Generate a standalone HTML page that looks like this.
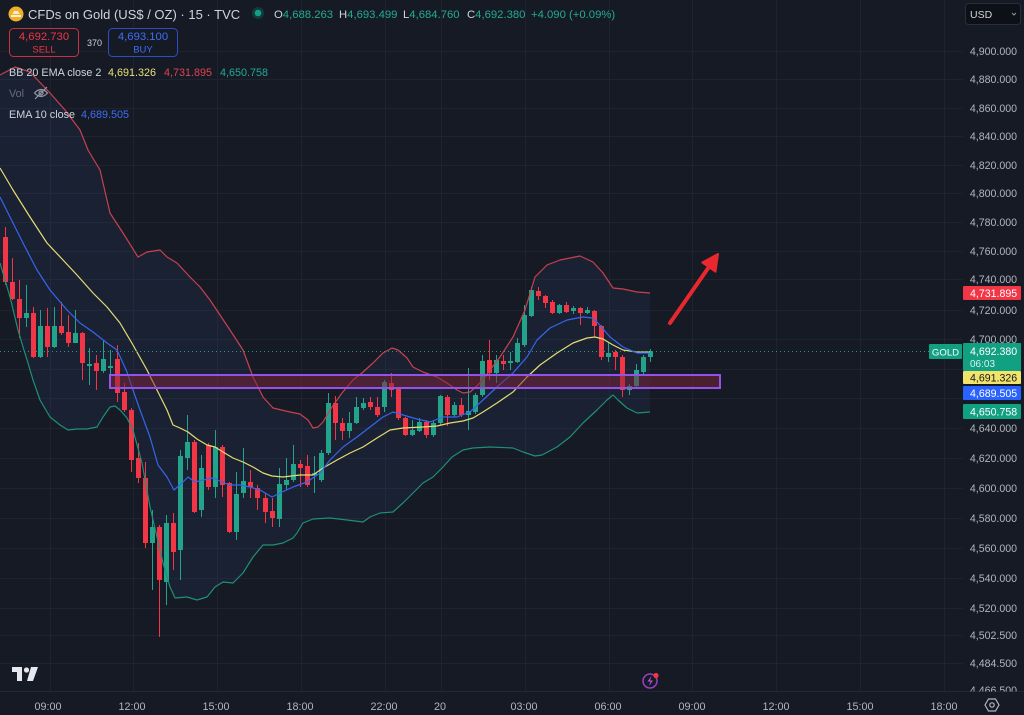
<!DOCTYPE html>
<html><head><meta charset="utf-8">
<style>
html,body{margin:0;padding:0;background:#161a25;}
svg{display:block;font-family:"Liberation Sans",sans-serif;}
</style></head>
<body>
<svg width="1024" height="715" viewBox="0 0 1024 715" xmlns="http://www.w3.org/2000/svg">
<rect width="1024" height="715" fill="#161a25"/>
<!-- grid -->
<g stroke="#1f2330" stroke-width="1" shape-rendering="crispEdges">
<path d="M50.5 0V692M133.5 0V692M217.5 0V692M301.5 0V692M385.5 0V692M441.5 0V692M525.5 0V692M609.5 0V692M692.5 0V692M776.5 0V692M860.5 0V692M944.5 0V692"/>
<path d="M0 51.5H963M0 79.5H963M0 108.5H963M0 136.5H963M0 165.5H963M0 193.5H963M0 222.5H963M0 251.5H963M0 279.5H963M0 310.5H963M0 339.5H963M0 369.5H963M0 398.5H963M0 428.5H963M0 458.5H963M0 488.5H963M0 518.5H963M0 548.5H963M0 578.5H963M0 608.5H963M0 635.5H963M0 663.5H963"/>
</g>
<path d="M0 691.5H1024" stroke="#232733" stroke-width="1"/>
<!-- BB fill -->
<polygon fill="rgba(70,110,200,0.09)" points="0,75 15,67 30,72 50,93 65,110 80,130 88,150 100,170 110,213 123,233 138,257 147,252 160,250 167,257 177,263 190,277 200,287 210,300 230,330 243,350 253,377 263,397 273,408 290,412 300,414 308,420 313,428 318,427 323,422 332,407 342,393 353,380 363,372 373,363 383,353 392,348 398,350 407,358 413,367 423,372 437,377 447,383 457,390 463,393 470,392 478,385 485,377 490,370 500,357 513,337 525,310 535,277 547,265 560,260 580,256 593,262 603,273 613,288 623,289 637,292 650,293 650,412 637,413 627,408 618,400 613,395 607,400 597,410 583,423 570,437 557,447 542,455 535,456 523,452 513,448 490,447 473,448 463,450 452,457 443,467 433,477 423,483 413,493 403,503 393,512 380,513 370,517 363,522 347,520 330,518 313,519 303,523 297,533 293,538 283,543 273,545 263,545 253,557 243,573 233,583 223,582 215,587 207,597 197,600 187,597 175,598 170,587 163,563 157,537 150,507 142,463 133,430 127,418 120,410 115,406 110,407 103,417 97,427 87,429 77,429 68,430 60,425 50,417 40,400 33,380 28,363 23,347 18,330 10,297 0,263"/>
<!-- candles -->
<g shape-rendering="crispEdges">
<path stroke="#f23645" stroke-width="1" fill="none" d="M5.5 227V285M12.5 258V300M19.5 280V338M33.5 307V358M47.5 308V357M61.5 302V335M68.5 315V347M82.5 332V380M96.5 355V390M117.5 345V402M124.5 383V412M131.5 408V472M138.5 443V483M145.5 462V548M159.5 525V637M173.5 513V570M194.5 440V513M208.5 443V490M222.5 445V497M229.5 482V533M250.5 470V498M257.5 485V510M265.5 493V523M272.5 498V527M300.5 460V487M307.5 455V487M335.5 396V440M342.5 418V440M370.5 397V410M377.5 397V417M391.5 373V397M398.5 387V420M405.5 417V436M426.5 420V438M447.5 395V426M461.5 398V417M489.5 340V380M503.5 355V370M538.5 287V300M545.5 295V308M552.5 300V314M566.5 302V313M580.5 307V325M594.5 310V337M601.5 325V360M615.5 350V370M622.5 355V397"/>
<g fill="#f23645">
<rect x="3" y="237" width="5" height="45"/><rect x="10" y="282" width="5" height="17"/><rect x="17" y="299" width="5" height="19"/><rect x="31" y="313" width="5" height="44"/><rect x="45" y="326" width="5" height="21"/><rect x="59" y="326" width="5" height="7"/><rect x="66" y="332" width="5" height="11"/><rect x="80" y="333" width="5" height="30"/><rect x="94" y="363" width="5" height="8"/><rect x="115" y="359" width="5" height="34"/><rect x="122" y="392" width="5" height="18"/><rect x="129" y="410" width="5" height="50"/><rect x="136" y="458" width="5" height="20"/><rect x="143" y="478" width="5" height="65"/><rect x="157" y="527" width="5" height="53"/><rect x="171" y="523" width="5" height="29"/><rect x="192" y="442" width="5" height="70"/><rect x="206" y="445" width="5" height="42"/><rect x="220" y="447" width="5" height="38"/><rect x="227" y="483" width="5" height="49"/><rect x="248" y="482" width="5" height="5"/><rect x="255" y="488" width="5" height="10"/><rect x="263" y="498" width="5" height="14"/><rect x="270" y="511" width="5" height="7"/><rect x="298" y="464" width="5" height="4"/><rect x="305" y="466" width="5" height="19"/><rect x="333" y="403" width="5" height="20"/><rect x="340" y="423" width="5" height="8"/><rect x="368" y="402" width="5" height="5"/><rect x="375" y="407" width="5" height="8"/><rect x="389" y="383" width="5" height="7"/><rect x="396" y="388" width="5" height="30"/><rect x="403" y="418" width="5" height="17"/><rect x="424" y="422" width="5" height="13"/><rect x="445" y="397" width="5" height="18"/><rect x="459" y="405" width="5" height="10"/><rect x="487" y="360" width="5" height="13"/><rect x="501" y="361" width="5" height="3"/><rect x="536" y="291" width="5" height="5"/><rect x="543" y="296" width="5" height="7"/><rect x="550" y="302" width="5" height="11"/><rect x="564" y="305" width="5" height="7"/><rect x="578" y="308" width="5" height="5"/><rect x="592" y="311" width="5" height="15"/><rect x="599" y="326" width="5" height="31"/><rect x="613" y="352" width="5" height="5"/><rect x="620" y="357" width="5" height="33"/>
</g>
<path stroke="#22a38a" stroke-width="1" fill="none" d="M26.5 285V327M40.5 310V358M54.5 307V348M75.5 310V343M89.5 348V385M103.5 340V373M110.5 350V388M152.5 510V590M166.5 515V605M180.5 450V580M187.5 415V470M201.5 455V517M215.5 430V498M236.5 472V540M243.5 448V498M279.5 468V527M286.5 458V490M293.5 445V482M314.5 456V493M321.5 450V482M328.5 393V455M349.5 412V438M356.5 397V424M363.5 398V410M384.5 380V412M412.5 420V436M419.5 418V432M433.5 420V437M440.5 395V425M454.5 402V417M468.5 368V430M475.5 393V414M482.5 355V397M496.5 355V383M510.5 352V370M517.5 338V363M524.5 305V347M531.5 287V317M559.5 304V314M573.5 306V314M587.5 307V314M608.5 343V362M629.5 384V395M636.5 364V387M643.5 355V375M650.5 349V362"/>
<g fill="#22a38a">
<rect x="24" y="313" width="5" height="5"/><rect x="38" y="326" width="5" height="31"/><rect x="52" y="326" width="5" height="21"/><rect x="73" y="333" width="5" height="10"/><rect x="87" y="364" width="5" height="2"/><rect x="101" y="359" width="5" height="12"/><rect x="108" y="366" width="5" height="2"/><rect x="150" y="527" width="5" height="16"/><rect x="164" y="523" width="5" height="59"/><rect x="178" y="456" width="5" height="94"/><rect x="185" y="442" width="5" height="16"/><rect x="199" y="468" width="5" height="42"/><rect x="213" y="447" width="5" height="40"/><rect x="234" y="494" width="5" height="38"/><rect x="241" y="481" width="5" height="12"/><rect x="277" y="484" width="5" height="35"/><rect x="284" y="480" width="5" height="5"/><rect x="291" y="464" width="5" height="16"/><rect x="312" y="473" width="5" height="2"/><rect x="319" y="453" width="5" height="27"/><rect x="326" y="403" width="5" height="50"/><rect x="347" y="423" width="5" height="8"/><rect x="354" y="407" width="5" height="16"/><rect x="361" y="403" width="5" height="5"/><rect x="382" y="382" width="5" height="25"/><rect x="410" y="430" width="5" height="5"/><rect x="417" y="422" width="5" height="9"/><rect x="431" y="423" width="5" height="12"/><rect x="438" y="396" width="5" height="27"/><rect x="452" y="405" width="5" height="10"/><rect x="466" y="411" width="5" height="4"/><rect x="473" y="395" width="5" height="17"/><rect x="480" y="361" width="5" height="34"/><rect x="494" y="360" width="5" height="13"/><rect x="508" y="361" width="5" height="2"/><rect x="515" y="343" width="5" height="19"/><rect x="522" y="315" width="5" height="30"/><rect x="529" y="290" width="5" height="26"/><rect x="557" y="305" width="5" height="8"/><rect x="571" y="308" width="5" height="3"/><rect x="585" y="310" width="5" height="3"/><rect x="606" y="353" width="5" height="4"/><rect x="627" y="386" width="5" height="4"/><rect x="634" y="370" width="5" height="16"/><rect x="641" y="357" width="5" height="15"/><rect x="648" y="351" width="5" height="6"/>
</g>
</g>
<!-- indicator lines -->
<g fill="none" stroke-width="1.2" stroke-linejoin="round">
<polyline stroke="#c8414e" points="0,75 15,67 30,72 50,93 65,110 80,130 88,150 100,170 110,213 123,233 138,257 147,252 160,250 167,257 177,263 190,277 200,287 210,300 230,330 243,350 253,377 263,397 273,408 290,412 300,414 308,420 313,428 318,427 323,422 332,407 342,393 353,380 363,372 373,363 383,353 392,348 398,350 407,358 413,367 423,372 437,377 447,383 457,390 463,393 470,392 478,385 485,377 490,370 500,357 513,337 525,310 535,277 547,265 560,260 580,256 593,262 603,273 613,288 623,289 637,292 650,293"/>
<polyline stroke="#1f8f75" points="0,263 10,297 18,330 23,347 28,363 33,380 40,400 50,417 60,425 68,430 77,429 87,429 97,427 103,417 110,407 115,406 120,410 127,418 133,430 142,463 150,507 157,537 163,563 170,587 175,598 187,597 197,600 207,597 215,587 223,582 233,583 243,573 253,557 263,545 273,545 283,543 293,538 297,533 303,523 313,519 330,518 347,520 363,522 370,517 380,513 393,512 403,503 413,493 423,483 433,477 443,467 452,457 463,450 473,448 490,447 513,448 523,452 535,456 542,455 557,447 570,437 583,423 597,410 607,400 613,395 618,400 627,408 637,413 650,412"/>
<polyline stroke="#e4dc72" points="0,168 13,190 30,217 47,243 63,260 77,275 93,293 107,307 120,323 133,345 147,370 157,390 167,410 173,425 180,428 188,432 197,439 207,445 215,447 223,452 233,458 243,462 253,467 263,473 272,476 283,477 300,475 313,475 323,468 337,460 350,453 363,447 377,438 390,430 403,428 423,427 437,426 450,423 463,421 473,418 483,412 497,403 513,392 527,377 540,365 557,353 573,343 587,338 595,337 603,339 613,345 623,350 637,352 650,352"/>
<polyline stroke="#3466ee" points="0,197 10,217 23,243 37,270 50,290 67,310 80,323 93,332 107,343 117,350 127,372 133,390 140,410 150,437 158,465 167,477 174,490 182,483 188,477 195,482 203,480 213,478 222,482 230,485 240,485 250,487 260,490 272,497 280,493 293,487 307,482 320,473 330,460 343,447 357,437 370,427 383,417 393,412 403,415 417,419 430,422 443,417 457,417 470,412 483,400 497,387 513,373 527,357 537,340 550,328 567,320 583,317 592,318 598,323 610,337 623,347 637,353 650,353"/>
</g>
<!-- current price dotted line -->
<path d="M0 351.5H929" stroke="#1e9c84" stroke-width="1" stroke-dasharray="1 3"/>
<!-- purple zone -->
<rect x="110" y="375" width="610" height="13" fill="rgba(125,38,58,0.5)" stroke="#9352ea" stroke-width="2"/>
<!-- red arrow -->
<line x1="670" y1="323" x2="711" y2="264" stroke="#e8282e" stroke-width="4" stroke-linecap="round"/>
<polygon points="718,254 715.5,271.7 702.3,262.5" fill="#e8282e" stroke="#e8282e" stroke-width="2" stroke-linejoin="round"/>

<!-- header -->
<circle cx="16" cy="14" r="7.5" fill="#f0b02a"/>
<path d="M11 17h10v-2h-10zM12.5 14h7l-1.5-3h-4z" fill="#fff7e0" opacity="0.9"/>
<text x="28" y="19" font-size="13" fill="#d1d4dc">CFDs on Gold (US$ / OZ) · 15 · TVC</text>
<circle cx="258" cy="13" r="6" fill="rgba(8,153,129,0.25)"/>
<circle cx="258" cy="13" r="3.3" fill="#12a083"/>
<g font-size="11.3">
<text x="274" y="18"><tspan fill="#d1d4dc">O</tspan><tspan fill="#22ab94">4,688.263</tspan></text>
<text x="339" y="18"><tspan fill="#d1d4dc">H</tspan><tspan fill="#22ab94">4,693.499</tspan></text>
<text x="403" y="18"><tspan fill="#d1d4dc">L</tspan><tspan fill="#22ab94">4,684.760</tspan></text>
<text x="467" y="18"><tspan fill="#d1d4dc">C</tspan><tspan fill="#22ab94">4,692.380</tspan></text>
<text x="531" y="18" fill="#22ab94">+4.090 (+0.09%)</text>
</g>
<rect x="9.5" y="28.5" width="69" height="28" rx="4" fill="#161a25" stroke="#c83240"/>
<text x="44" y="40" font-size="11.3" fill="#f23645" text-anchor="middle">4,692.730</text>
<text x="44" y="52.5" font-size="9.5" fill="#f23645" text-anchor="middle">SELL</text>
<text x="87" y="46" font-size="9" fill="#d1d4dc">370</text>
<rect x="108.5" y="28.5" width="69" height="28" rx="4" fill="#161a25" stroke="#2c4fc0"/>
<text x="143" y="40" font-size="11.3" fill="#3d6ef5" text-anchor="middle">4,693.100</text>
<text x="143" y="52.5" font-size="9.5" fill="#3d6ef5" text-anchor="middle">BUY</text>
<g font-size="10.8">
<text x="9" y="76" fill="#d1d4dc">BB 20 EMA close 2</text>
<text x="108" y="76" fill="#e9e07a">4,691.326</text>
<text x="164" y="76" fill="#e0434f">4,731.895</text>
<text x="220" y="76" fill="#22ab94">4,650.758</text>
<text x="9" y="97" fill="#6a6d78">Vol</text>
<text x="9" y="118" fill="#d1d4dc">EMA 10 close</text>
<text x="81" y="118" fill="#3d6ef5">4,689.505</text>
</g>
<g fill="none" stroke="#9598a1" stroke-width="1.2">
<path d="M34.5 93Q41 86 47.5 93Q41 100 34.5 93Z"/>
<circle cx="41" cy="93" r="2"/>
<path d="M35 99L47 87"/>
</g>

<!-- price axis -->
<g font-size="10.6" fill="#b2b5be" text-anchor="end">
<text x="1017" y="55">4,900.000</text>
<text x="1017" y="83">4,880.000</text>
<text x="1017" y="112">4,860.000</text>
<text x="1017" y="140">4,840.000</text>
<text x="1017" y="169">4,820.000</text>
<text x="1017" y="197">4,800.000</text>
<text x="1017" y="226">4,780.000</text>
<text x="1017" y="255">4,760.000</text>
<text x="1017" y="283">4,740.000</text>
<text x="1017" y="314">4,720.000</text>
<text x="1017" y="343">4,700.000</text>
<text x="1017" y="432">4,640.000</text>
<text x="1017" y="462">4,620.000</text>
<text x="1017" y="492">4,600.000</text>
<text x="1017" y="522">4,580.000</text>
<text x="1017" y="552">4,560.000</text>
<text x="1017" y="582">4,540.000</text>
<text x="1017" y="612">4,520.000</text>
<text x="1017" y="639">4,502.500</text>
<text x="1017" y="667">4,484.500</text>
</g>
<svg x="963" y="680" width="61" height="11.5" overflow="hidden"><text x="54" y="14" font-size="10.6" fill="#b2b5be" text-anchor="end">4,466.500</text></svg>
<!-- badges -->
<rect x="963" y="286" width="58" height="14" rx="1" fill="#f23645"/>
<text x="970" y="297" font-size="10.6" fill="#ffffff">4,731.895</text>
<rect x="929" y="344" width="33" height="15" rx="1" fill="#12a083"/>
<text x="945.5" y="355.5" font-size="9.6" fill="#ffffff" text-anchor="middle">GOLD</text>
<rect x="963" y="343" width="58" height="28" rx="1" fill="#12a083"/>
<text x="970" y="355" font-size="10.6" fill="#ffffff">4,692.380</text>
<text x="970" y="367" font-size="10" fill="#d9f2ec">06:03</text>
<rect x="963" y="371" width="58" height="13" rx="1" fill="#f2e46a"/>
<text x="970" y="381.5" font-size="10.6" fill="#131722">4,691.326</text>
<rect x="963" y="386" width="58" height="14" rx="1" fill="#2962ff"/>
<text x="970" y="397" font-size="10.6" fill="#ffffff">4,689.505</text>
<rect x="963" y="404" width="58" height="15" rx="1" fill="#12a083"/>
<text x="970" y="415.5" font-size="10.6" fill="#ffffff">4,650.758</text>
<!-- USD button -->
<rect x="965.5" y="3.5" width="55" height="21" rx="3" fill="#0e1017" stroke="#2a2e39"/>
<text x="970" y="18" font-size="10.5" fill="#d1d4dc">USD</text>
<path d="M1012 13l2 2 2-2" fill="none" stroke="#9598a1" stroke-width="1"/>

<!-- time axis -->
<g font-size="10.8" fill="#b2b5be" text-anchor="middle">
<text x="48" y="710">09:00</text>
<text x="132" y="710">12:00</text>
<text x="216" y="710">15:00</text>
<text x="300" y="710">18:00</text>
<text x="384" y="710">22:00</text>
<text x="440" y="710">20</text>
<text x="524" y="710">03:00</text>
<text x="608" y="710">06:00</text>
<text x="692" y="710">09:00</text>
<text x="776" y="710">12:00</text>
<text x="860" y="710">15:00</text>
<text x="944" y="710">18:00</text>
</g>
<!-- settings icon -->
<g fill="none" stroke="#b2b5be" stroke-width="1.2">
<polygon points="985,705 988.5,699 995.5,699 999,705 995.5,711 988.5,711"/>
<circle cx="992" cy="705" r="2.2"/>
</g>
<!-- TV logo -->
<g fill="#e6e8ee">
<path d="M12 667h10v14h-5v-9h-5z"/>
<circle cx="26.5" cy="670" r="2.6"/>
<polygon points="31,667 38,667 33,681 27,681"/>
</g>
<!-- lightning icon -->
<circle cx="650" cy="681" r="7" fill="none" stroke="#9b3fc0" stroke-width="1.5"/>
<path d="M651.5 676l-4 5.5h3l-1.5 4.5 4-5.5h-3z" fill="#b455e0"/>
<circle cx="656" cy="675.5" r="2.6" fill="#f23645"/>
</svg>
</body></html>
